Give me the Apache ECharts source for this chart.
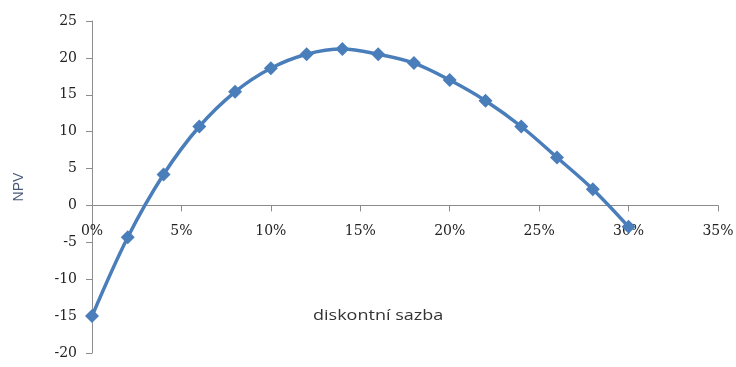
<!DOCTYPE html>
<html>
<head>
<meta charset="utf-8">
<script src="https://cdn.jsdelivr.net/npm/echarts@6/dist/echarts.min.js"></script>
<style>
  html, body { margin: 0; padding: 0; background: #fff; }
  #chart { width: 736px; height: 367px; }
</style>
</head>
<body>
<div id="chart"></div>
<script>
// Discount rates (fraction) and net present values
const rates = [0, 0.02, 0.04, 0.06, 0.08, 0.10, 0.12, 0.14, 0.16, 0.18, 0.20, 0.22, 0.24, 0.26, 0.28, 0.30];
const npv = [-15.0, -4.3, 4.2, 10.7, 15.4, 18.6, 20.5, 21.2, 20.5, 19.3, 17.0, 14.2, 10.7, 6.5, 2.2, -2.9];

const xAxisName = 'diskontní sazba';
const yAxisName = 'NPV';

const yMin = -20, yMax = 25;
const gridTop = 21, gridBottom = 14, chartHeight = 367;
const plotHeight = chartHeight - gridTop - gridBottom;
// lift the rate axis (line, ticks and labels) up to the zero value
const zeroOffset = -((0 - yMin) / (yMax - yMin)) * plotHeight;

const chart = echarts.init(document.getElementById('chart'));
chart.setOption({
  animation: false,
  grid: { left: 92, right: 18, top: gridTop, bottom: gridBottom, containLabel: false, outerBoundsMode: 'none' },
  xAxis: {
    type: 'value',
    position: 'bottom',
    offset: zeroOffset,
    min: 0, max: 0.35, interval: 0.05,
    axisLine: { onZero: false, lineStyle: { color: '#8c8c8c', width: 1 } },
    axisTick: { show: true, length: 6, lineStyle: { color: '#8c8c8c' } },
    splitLine: { show: false },
    axisLabel: {
      margin: 19,
      fontFamily: 'DejaVu Serif',
      fontSize: 14,
      color: '#222',
      formatter: v => Math.round(v * 100) + '%'
    }
  },
  yAxis: {
    type: 'value',
    min: yMin, max: yMax, interval: 5,
    name: yAxisName,
    nameLocation: 'middle',
    nameGap: 66,
    nameRotate: 90,
    nameTextStyle: { fontFamily: 'Liberation Sans', fontSize: 14, color: '#4a5a78' },
    axisLine: { show: true, lineStyle: { color: '#8c8c8c', width: 1 } },
    axisTick: { show: true, length: 6, lineStyle: { color: '#8c8c8c' } },
    splitLine: { show: false },
    axisLabel: {
      margin: 15,
      fontFamily: 'DejaVu Serif',
      fontSize: 14,
      color: '#222'
    }
  },
  graphic: [{
    type: 'text',
    x: 313, y: 308,
    scaleX: 1.2,
    style: {
      text: xAxisName,
      font: '15px "Open Sans", "Liberation Sans", sans-serif',
      fill: '#333'
    }
  }],
  series: [{
    type: 'line',
    data: rates.map((r, i) => [r, npv[i]]),
    smooth: 0.35,
    symbol: 'diamond',
    symbolSize: 14,
    lineStyle: { color: '#4a7ebb', width: 3.5 },
    itemStyle: { color: '#4a7ebb' }
  }]
});
</script>
</body>
</html>
